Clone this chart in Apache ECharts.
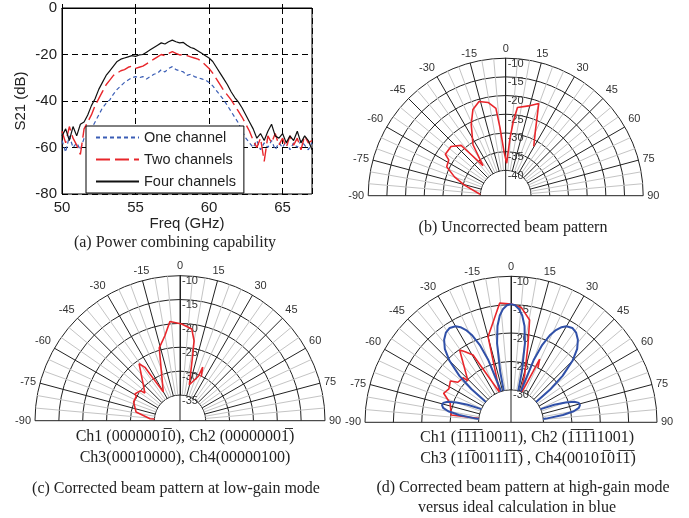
<!DOCTYPE html>
<html>
<head>
<meta charset="utf-8">
<script src="https://cdn.jsdelivr.net/npm/echarts@6/dist/echarts.min.js"></script>
<style>
  html, body { margin: 0; padding: 0; background: #fff; }
  #chart { width: 689px; height: 518px; }
</style>
</head>
<body>
<div id="chart"></div>
<script>
// (a) power combining, S21 in dB vs frequency in GHz
const freq = [50, 50.25, 50.5, 50.75, 51, 51.25, 51.5, 51.75, 52, 52.25, 52.5, 52.75, 53, 53.25, 53.5, 53.75, 54, 54.25, 54.5, 54.75, 55, 55.25, 55.5, 55.75, 56, 56.25, 56.5, 56.75, 57, 57.25, 57.5, 57.75, 58, 58.25, 58.5, 58.75, 59, 59.25, 59.5, 59.75, 60, 60.25, 60.5, 60.75, 61, 61.25, 61.5, 61.75, 62, 62.25, 62.5, 62.75, 63, 63.25, 63.5, 63.75, 64, 64.25, 64.5, 64.75, 65, 65.25, 65.5, 65.75, 66, 66.25, 66.5, 66.75, 67]
const oneChannel = [-57, -62, -55, -60, -58, -61, -56, -55, -52, -49, -46, -43, -41, -39.5, -37, -35, -33.5, -32, -31, -30, -29.5, -30, -29.5, -30.5, -29.5, -28.5, -28, -26.5, -27.5, -26, -25.2, -26.5, -27, -27.5, -29, -28.5, -29.5, -30, -30.5, -31, -32, -33.5, -35.5, -37.5, -39.5, -42, -44.5, -47, -49.5, -53, -56, -58, -60, -57, -61, -58, -60, -57, -61, -58, -60, -57, -61, -58, -60, -57, -59, -61, -58]
const twoChannels = [-53, -58, -51, -56, -59, -63, -52, -49, -46, -42, -39, -36, -33, -31, -29, -28, -27, -26.5, -25.5, -25, -26, -25.5, -25, -24, -23, -22, -21, -20, -20.5, -19.5, -18.8, -19.5, -20.2, -20, -20.5, -21, -21.5, -22, -23, -24.5, -26, -28, -30.5, -33, -35.5, -37.5, -39.5, -42, -44.5, -47, -50, -53, -57, -60, -56, -66, -55, -58, -54, -59, -56, -60, -55, -59, -56, -61, -55, -58, -57]
const fourChannels = [-55, -52, -57, -51, -55, -50, -49, -46, -42, -39, -35, -32, -29, -27, -25, -23, -22, -21.5, -21, -20.5, -20.8, -20.2, -20, -19, -18, -17, -16, -15, -15.5, -14.5, -13.8, -14.5, -15, -14.8, -16, -17, -17.5, -18.5, -19.5, -20.5, -21.5, -23, -25.5, -28, -30.5, -33, -36, -38.5, -40.5, -43, -46, -49, -52, -56, -54, -57, -53, -50, -55, -56, -54, -58, -55, -57, -53, -58, -55, -57, -61]

// (b) uncorrected beam, angle in degrees and level in dB
const bAngle = [-90, -86.3, -75.7, -69.8, -63.8, -57.9, -55.5, -48, -41.5, -40.3, -37, -32.7, -25.8, -20.8, -15.8, -10.7, -6.4, -4.8, -2.2, 1.8, 4.3, 5.9, 7.6, 14.3, 19.7, 21.9, 24.7, 29.6]
const bLevel = [-46.8, -39.8, -35.4, -32.2, -29.2, -28.8, -27.2, -27.1, -28.8, -31.9, -36.7, -30.6, -25.6, -22.1, -20.6, -21.4, -23.3, -28.6, -35, -38.1, -31.3, -26.7, -23, -22, -20.6, -24.3, -27.8, -31.6]

// (c) corrected, low-gain mode
const cAngle = [-90, -86.2, -78.9, -67.9, -60.7, -59.4, -52.7, -51.7, -45.5, -35.7, -33.3, -30.2, -15.9, -10.1, -5.8, 1, 7.3, 10, 10.9, 14.5, 22.5, 23, 25.9]
const cLevel = [-40.4, -34.1, -31, -29.9, -29.9, -29.4, -30, -31, -29.6, -25.7, -27, -33.4, -24.5, -22.3, -19.5, -20.1, -21, -23.4, -26.2, -32.6, -30.3, -28.2, -30.2]

// (d) corrected, high-gain mode (measured) and ideal calculation
const dAngle = [-90, -83, -72.6, -66.7, -61.7, -55.7, -53, -47.1, -46.1, -35.4, -33.3, -29.4, -20.7, -15, -5.4, 0.2, 5.1, 10.3, 12.4, 16.1, 18.9, 23.5, 24.4, 26.3]
const dLevel = [-35.7, -25.1, -24.5, -22.8, -23.3, -22.8, -24, -24.2, -25.2, -20.1, -20.8, -22.1, -30.1, -20.1, -14.6, -14.9, -15.4, -17.4, -21.8, -27, -30.6, -26, -23.5, -25]
const idealAngle = [-90, -88, -86, -84, -82, -80, -78, -76, -74, -72, -70, -68, -66, -64, -62, -54, -52, -50, -48, -45, -42, -39, -36, -33, -30, -28, -26, -24, -22, -20, -18, -16, -14, -13, -12, -10, -8, -6, -4, -2, 0, 2, 4, 6, 8, 10, 12, 13, 14, 16, 18, 20, 22, 24, 26, 28, 30, 33, 36, 39, 42, 45, 48, 50, 52, 54, 62, 64, 66, 68, 70, 72, 74, 76, 78, 80, 82, 84, 86, 88, 90]
const idealLevel = [-35.7, -35.7, -33, -29.5, -26.5, -24.5, -23.5, -23.2, -23.3, -24, -25.5, -27.5, -30, -33, -35.7, -35.7, -31.3, -26.6, -23.5, -20.4, -18.3, -17, -16.2, -15.9, -16.2, -16.75, -17.65, -19, -21, -24.1, -29.5, -35.7, -35.7, -30, -26.5, -21.6, -18.6, -16.8, -15.7, -15.1, -14.9, -15.1, -15.7, -16.8, -18.6, -21.6, -26.5, -30, -35.7, -35.7, -29.5, -24.1, -21, -19, -17.65, -16.75, -16.2, -15.9, -16.2, -17, -18.3, -20.4, -23.5, -26.6, -31.3, -35.7, -35.7, -33, -30, -27.5, -25.5, -24, -23.3, -23.2, -23.5, -24.5, -26.5, -29.5, -33, -35.7, -35.7]

const sans = 'Liberation Sans'
const serif = 'Liberation Serif'
const ink = '#222'
const red = '#e8262b'
const blue = '#3050a8'

const polar = []
const angleAxis = []
const radiusAxis = []

// half-circle frame: grid, spoke labels on the 0 deg line, and the centre hole
function addBeamFrame(center, r0, r1, min, max) {
  const base = polar.length
  polar.push({ center, radius: [r0, r1] })
  angleAxis.push({
    polarIndex: base, type: 'value', min: -90, max: 90, interval: 15,
    startAngle: 180, endAngle: 0, clockwise: true,
    axisLine: { show: false },
    axisTick: { show: false },
    axisLabel: { color: '#333', fontFamily: sans, fontSize: 11, margin: 4 },
    splitLine: { lineStyle: { color: ink, width: 1 } },
    minorTick: { show: false, splitNumber: 3 },
    minorSplitLine: { show: true, lineStyle: { color: '#c4c4c4', width: 1 } },
  })
  radiusAxis.push({
    polarIndex: base, type: 'value', min, max, interval: 5,
    axisLine: { show: false }, axisTick: { show: false }, axisLabel: { show: false },
    splitLine: { lineStyle: { color: ink, width: 1 } },
  })

  polar.push({ center, radius: [r0, r1] })
  angleAxis.push({ polarIndex: base + 1, type: 'value', min: 0, max: 360, startAngle: 90, show: false })
  radiusAxis.push({
    polarIndex: base + 1, type: 'value', min, max, interval: 5,
    axisLine: { lineStyle: { color: ink, width: 1 } },
    axisTick: { show: false },
    axisLabel: { color: '#333', fontFamily: sans, fontSize: 11, margin: -2, align: 'left', verticalAlign: 'top' },
    splitLine: { show: false },
  })

  polar.push({ center, radius: [0, r0] })
  angleAxis.push({
    polarIndex: base + 2, type: 'value', min: -90, max: 90, interval: 90,
    startAngle: 180, endAngle: 0, clockwise: true,
    axisLine: { show: false },
    axisTick: { show: false }, axisLabel: { show: false },
    splitLine: { lineStyle: { color: ink, width: 1 } },
  })
  radiusAxis.push({ polarIndex: base + 2, type: 'value', min: 0, max: 1, show: false })
  return base
}

const bPolar = addBeamFrame([505.7, 195.7], 25.4, 137.5, -40, -10)
const cPolar = addBeamFrame([180, 420.7], 25.7, 145, -35, -10)
const dPolar = addBeamFrame([511, 422.3], 32.5, 146, -30, -10)

function pairs(level, angle) {
  return level.map((v, i) => [v, angle[i]])
}
function xy(xs, ys) {
  return ys.map((v, i) => [xs[i], v])
}

function beamLine(polarIndex, level, angle, color, width) {
  return {
    type: 'line', coordinateSystem: 'polar', polarIndex,
    data: pairs(level, angle), symbol: 'none', clip: false, silent: true,
    lineStyle: { color, width },
  }
}

function caption(text, x, y, size) {
  return {
    type: 'text', x, y, silent: true,
    style: { text, fill: '#222', font: `${size || 16}px "${serif}"`, textAlign: 'center', textVerticalAlign: 'middle' },
  }
}

const option = {
  animation: false,
  backgroundColor: '#fff',
  grid: { left: 62, top: 8, width: 250, height: 186, show: true, borderColor: '#000', borderWidth: 1, backgroundColor: '#fff' },
  xAxis: {
    type: 'value', min: 50, max: 67, interval: 5,
    name: 'Freq (GHz)', nameLocation: 'middle', nameGap: 22,
    nameTextStyle: { color: ink, fontFamily: sans, fontSize: 15 },
    axisLine: { lineStyle: { color: '#000' } },
    axisTick: { inside: true, length: 4, lineStyle: { color: '#000' } },
    axisLabel: { color: ink, fontFamily: sans, fontSize: 15, margin: 6, showMaxLabel: false },
    splitLine: { lineStyle: { color: '#000', type: [6, 4] } },
  },
  yAxis: {
    type: 'value', min: -80, max: 0, interval: 20,
    name: 'S21 (dB)', nameLocation: 'middle', nameGap: 34,
    nameTextStyle: { color: ink, fontFamily: sans, fontSize: 15 },
    axisLine: { lineStyle: { color: '#000' } },
    axisTick: { inside: true, length: 4, lineStyle: { color: '#000' } },
    axisLabel: { color: ink, fontFamily: sans, fontSize: 15, margin: 5 },
    splitLine: { lineStyle: { color: '#000', type: [6, 4] } },
  },
  legend: {
    left: 86, top: 126, orient: 'vertical',
    backgroundColor: '#fff', borderColor: '#000', borderWidth: 1,
    padding: [4, 8, 4, 9], itemWidth: 43, itemHeight: 14, itemGap: 7,
    itemStyle: { opacity: 0 },
    textStyle: { color: ink, fontFamily: sans, fontSize: 14.5 },
    data: ['One channel', 'Two channels', 'Four channels'],
  },
  polar, angleAxis, radiusAxis,
  series: [
    { name: 'One channel', type: 'line', data: xy(freq, oneChannel), symbol: 'none', lineStyle: { color: '#3a5db5', width: 1.2, type: [4, 3] }, itemStyle: { color: '#3a5db5' } },
    { name: 'Two channels', type: 'line', data: xy(freq, twoChannels), symbol: 'none', lineStyle: { color: red, width: 1.4, type: [14, 5] }, itemStyle: { color: red } },
    { name: 'Four channels', type: 'line', data: xy(freq, fourChannels), symbol: 'none', lineStyle: { color: '#111', width: 1.2 }, itemStyle: { color: '#111' } },
    beamLine(bPolar, bLevel, bAngle, red, 1.6),
    beamLine(cPolar, cLevel, cAngle, red, 1.6),
    beamLine(dPolar, dLevel, dAngle, red, 1.6),
    beamLine(dPolar, idealLevel, idealAngle, blue, 2),
  ],
  graphic: [
    caption('(a) Power combining capability', 175, 243),
    caption('(b) Uncorrected beam pattern', 513, 228),
    caption('Ch1 (0000001\u03050), Ch2 (00000001\u0305)', 185, 437),
    caption('Ch3(00010000), Ch4(00000100)', 185, 458),
    caption('(c) Corrected beam pattern at low-gain mode', 176, 489),
    caption('Ch1 (1\u03051\u03051\u030510011), Ch2 (1\u03051\u03051\u030511001)', 527, 438),
    caption('Ch3 (11\u030500111\u03051\u0305) , Ch4(00101\u030501\u03051\u0305)', 528, 459),
    caption('(d) Corrected beam pattern at high-gain mode', 523, 488),
    caption('versus ideal calculation in blue', 517, 508),
  ],
}

const chart = echarts.init(document.getElementById('chart'))
chart.setOption(option)
</script>
</body>
</html>
